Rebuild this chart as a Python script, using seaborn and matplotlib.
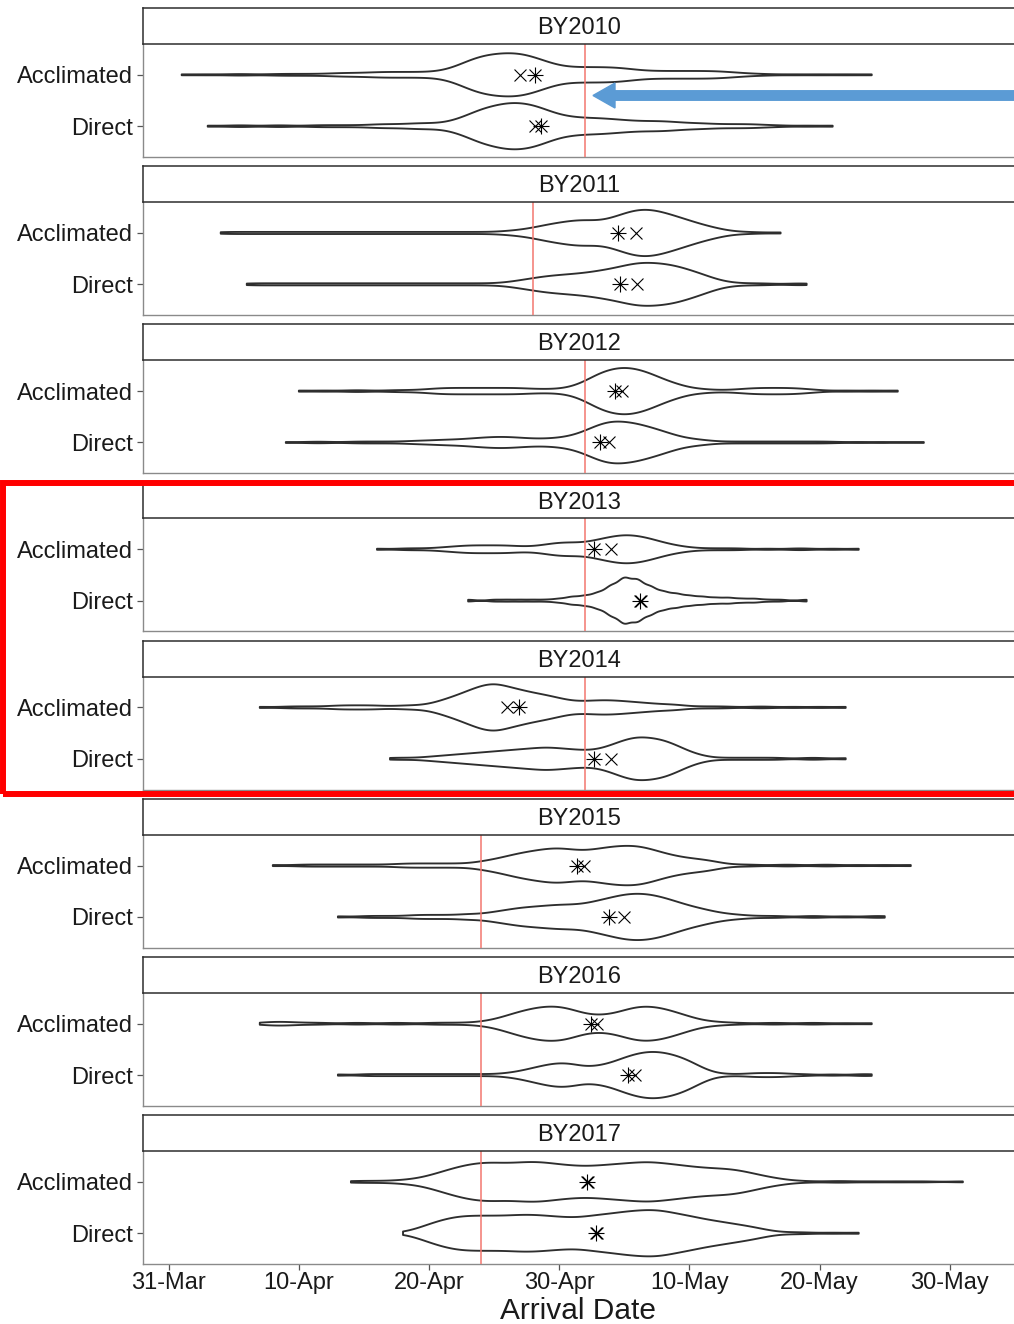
import numpy as np
import pandas as pd
import matplotlib
matplotlib.use("Agg")
import matplotlib.pyplot as plt
from matplotlib.patches import FancyArrow, Rectangle
import seaborn as sns

# ---- data (day 0 = 31-Mar) ----
years = ["BY2010", "BY2011", "BY2012", "BY2013",
         "BY2014", "BY2015", "BY2016", "BY2017"]
groups = ["Acclimated", "Direct"]

# number of arrivals per day, starting at the first arrival day
acc_start = [1, 4, 10, 16, 7, 8, 7, 14]
acc_counts = [
    [1, 0, 1, 0, 1, 1, 0, 1, 1, 1, 1, 1, 2, 2, 2, 3, 3, 3, 3, 3, 4, 8, 15, 20,
     22, 23, 23, 19, 14, 9, 8, 8, 8, 8, 7, 5, 4, 4, 4, 4, 4, 4, 3, 2, 1, 1, 0,
     1, 0, 1, 0, 1, 0, 1],
    [1] * 22 + [2, 3, 5, 8, 10, 12, 13, 11, 14, 19, 23, 23, 20, 16, 12, 8, 5,
                2, 1, 1, 0, 1],
    [1, 0, 1, 0, 1, 1, 0, 1, 1, 1, 2, 3, 3, 3, 3, 3, 3, 3, 2, 2, 2, 4, 9, 17,
     21, 23, 21, 17, 11, 7, 3, 2, 1, 1, 2, 3, 3, 3, 3, 2, 1, 0, 1, 0, 1, 0, 1],
    [1, 0, 1, 1, 1, 2, 3, 4, 4, 4, 4, 3, 3, 5, 7, 7, 7, 10, 13, 15, 14, 11, 7,
     4, 2, 1, 1, 1, 1, 0, 1, 0, 1, 1, 0, 1, 0, 1],
    [1, 0, 1, 1, 1, 1, 2, 2, 2, 2, 1, 2, 2, 3, 7, 11, 16, 21, 24, 20, 17, 14,
     12, 9, 6, 6, 7, 7, 6, 5, 4, 3, 3, 1, 1, 1, 1, 0, 1, 1, 0, 1, 0, 1, 0, 1],
    [1, 0, 1, 1, 1, 1, 1, 1, 1, 1, 2, 2, 2, 2, 2, 2, 4, 6, 9, 12, 14, 16, 17,
     15, 14, 16, 18, 19, 19, 16, 12, 9, 7, 6, 4, 1, 1, 1, 0, 1, 1, 0, 1, 1, 0,
     1, 0, 1, 0, 1],
    [1, 2, 2, 1, 1, 1, 0, 1, 1, 0, 1, 1, 0, 1, 1, 1, 1, 2, 4, 8, 12, 15, 17,
     17, 14, 9, 8, 9, 13, 17, 17, 15, 11, 7, 3, 2, 1, 1, 0, 1, 1, 0, 1, 1, 0,
     1, 0, 1],
    [1, 1, 1, 1, 2, 3, 6, 10, 14, 17, 19, 19, 18, 19, 20, 19, 17, 16, 15, 16,
     17, 18, 19, 20, 18, 17, 15, 14, 13, 13, 11, 8, 5, 3, 1, 1, 0, 1, 1, 0, 1,
     0, 1, 0, 1, 0, 0, 1],
]
dir_start = [3, 6, 9, 23, 17, 13, 13, 18]
dir_counts = [
    [1, 0, 1, 1, 0, 1, 1, 0, 1, 1, 1, 1, 1, 2, 2, 2, 3, 3, 3, 6, 11, 17, 20,
     23, 23, 21, 16, 11, 9, 8, 8, 7, 6, 5, 5, 5, 4, 3, 3, 2, 2, 2, 2, 1, 1, 0,
     1, 0, 1],
    [1] * 20 + [2, 4, 6, 8, 9, 10, 11, 13, 15, 18, 21, 21, 20, 18, 14, 10, 5,
                2, 1, 1, 1, 0, 1, 1],
    [1, 0, 1, 1, 0, 1, 1, 1, 1, 1, 2, 2, 3, 3, 4, 5, 6, 6, 5, 4, 4, 5, 7, 12,
     19, 23, 22, 20, 16, 12, 7, 4, 3, 1, 1, 1, 1, 1, 1, 1, 1, 1, 1, 0, 1, 0,
     1, 0, 0, 1],
    [1, 0, 1, 1, 1, 1, 1, 2, 4, 5, 8, 15, 23, 21, 14, 9, 7, 5, 4, 3, 3, 2, 2,
     1, 1, 0, 1],
    [1, 1, 1, 2, 3, 4, 5, 6, 7, 8, 9, 10, 11, 10, 9, 8, 9, 13, 18, 21, 20, 18,
     13, 7, 3, 1, 1, 1, 1, 1, 1, 0, 1, 1, 0, 1],
    [1, 0, 1, 1, 1, 1, 2, 2, 2, 2, 3, 3, 5, 7, 9, 10, 11, 12, 12, 13, 16, 19,
     22, 23, 22, 19, 15, 11, 8, 5, 3, 2, 1, 1, 1, 0, 1, 1, 0, 1, 0, 1, 1],
    [1, 0, 1, 1, 1, 1, 1, 1, 1, 1, 1, 1, 1, 2, 4, 7, 10, 12, 11, 8, 9, 12, 17,
     21, 23, 22, 19, 14, 7, 2, 1, 1, 2, 2, 2, 1, 1, 0, 1, 0, 1, 1],
    [1, 4, 9, 13, 16, 17, 17, 17, 17, 18, 18, 17, 16, 15, 16, 18, 19, 21, 22,
     23, 22, 19, 17, 14, 12, 10, 8, 6, 3, 1, 1, 1, 0, 1, 0, 1],
]

# summary markers (x = cross, star = asterisk), per year: [Acclimated, Direct]
cross_day = [[27.0, 28.1], [35.9, 36.0], [34.8, 33.8], [34.0, 36.3],
             [26.0, 34.0], [31.9, 35.0], [32.9, 35.8], [32.2, 32.9]]
star_day = [[28.1, 28.6], [34.5, 34.7], [34.3, 33.1], [32.7, 36.2],
            [26.9, 32.7], [31.4, 33.8], [32.4, 35.3], [32.1, 32.8]]

# vertical reference date per year
ref_day = [32, 28, 32, 32, 32, 24, 24, 24]

tick_days = [0, 10, 20, 30, 40, 50, 60]
tick_labels = ["31-Mar", "10-Apr", "20-Apr", "30-Apr",
               "10-May", "20-May", "30-May"]

# long table of individual arrivals
frames = []
for yi, year in enumerate(years):
    for grp, start, counts in ((groups[0], acc_start[yi], acc_counts[yi]),
                               (groups[1], dir_start[yi], dir_counts[yi])):
        days = np.repeat(start + np.arange(len(counts)), counts)
        frames.append(pd.DataFrame({"year": year, "group": grp, "day": days}))
arrivals = pd.concat(frames, ignore_index=True)

# ---- layout helpers (pixel boxes) ----
W, H = 1014, 1324


def fig_box(left, top, right, bottom):
    return [left / W, 1 - bottom / H, (right - left) / W, (bottom - top) / H]


sns.set_style("white")
plt.rcParams["font.family"] = ["Liberation Sans", "DejaVu Sans"]

fig = plt.figure(figsize=(W / 100, H / 100), dpi=100)

line_col = "#2e2e2e"
border_col = "#8a8a8a"
ref_col = "#F3776F"

for i, year in enumerate(years):
    top = 8 + 158.15 * i

    ax = fig.add_axes(fig_box(143, top + 36, 1016, top + 149))
    sub = arrivals[arrivals["year"] == year]
    sns.violinplot(data=sub, x="day", y="group", order=groups, orient="y",
                   ax=ax, cut=0, inner=None, fill=False, color=line_col,
                   linecolor=line_col, linewidth=1.35, saturation=1,
                   density_norm="area", bw_method=0.12, gridsize=400,
                   width=0.9)
    ax.axvline(ref_day[i], color=ref_col, lw=1.1, zorder=3)

    ax.scatter(cross_day[i], [0, 1], marker="x", s=8.6 ** 2, color="black",
               linewidths=0.8, zorder=4)
    ax.scatter(star_day[i], [0, 1], marker="x", s=8.6 ** 2, color="black",
               linewidths=0.8, zorder=4)
    ax.scatter(star_day[i], [0, 1], marker="+", s=12.2 ** 2, color="black",
               linewidths=0.8, zorder=4)

    ax.set_xlim(-1.97, 65.08)
    ax.set_ylim(1.6, -0.6)
    ax.set_xlabel("")
    ax.set_ylabel("")
    for side, spine in ax.spines.items():
        spine.set_color(border_col)
        spine.set_linewidth(1.0)
    ax.spines["top"].set_visible(False)
    ax.tick_params(axis="y", left=True, length=4, width=0.9, color="#555555",
                   labelsize=17, labelcolor="#1a1a1a", pad=3)
    if i < len(years) - 1:
        ax.tick_params(axis="x", bottom=False, labelbottom=False)
    else:
        ax.set_xticks(tick_days)
        ax.set_xticklabels(tick_labels)
        ax.tick_params(axis="x", bottom=True, length=4, width=0.9,
                       color="#555555", labelsize=17, labelcolor="#1a1a1a",
                       pad=2)

    strip = fig.add_axes(fig_box(143, top, 1016, top + 36))
    strip.set_xticks([])
    strip.set_yticks([])
    for spine in strip.spines.values():
        spine.set_color(line_col)
        spine.set_linewidth(1.1)
    strip.text(0.5, 0.44, year, ha="center", va="center", fontsize=17,
               color="#1a1a1a", transform=strip.transAxes)

fig.text(578.5 / W, 1 - 1311 / H, "Arrival Date", ha="center", va="center",
         fontsize=21.5, color="#1a1a1a")

# highlight box around BY2013-BY2014 and arrow in BY2010
fig.add_artist(Rectangle((3 / W, 1 - 793.5 / H), (1100 - 3) / W,
                         (793.5 - 483) / H, fill=False, edgecolor="#FF0000",
                         linewidth=4.3, transform=fig.transFigure))
fig.add_artist(FancyArrow(1.01, 1 - 95.5 / H, 593 / W - 1.01, 0,
                          width=9.5 / H, head_width=25 / H,
                          head_length=22 / W, length_includes_head=True,
                          color="#5B9BD5", transform=fig.transFigure))

fig.savefig("out.png", dpi=100)
